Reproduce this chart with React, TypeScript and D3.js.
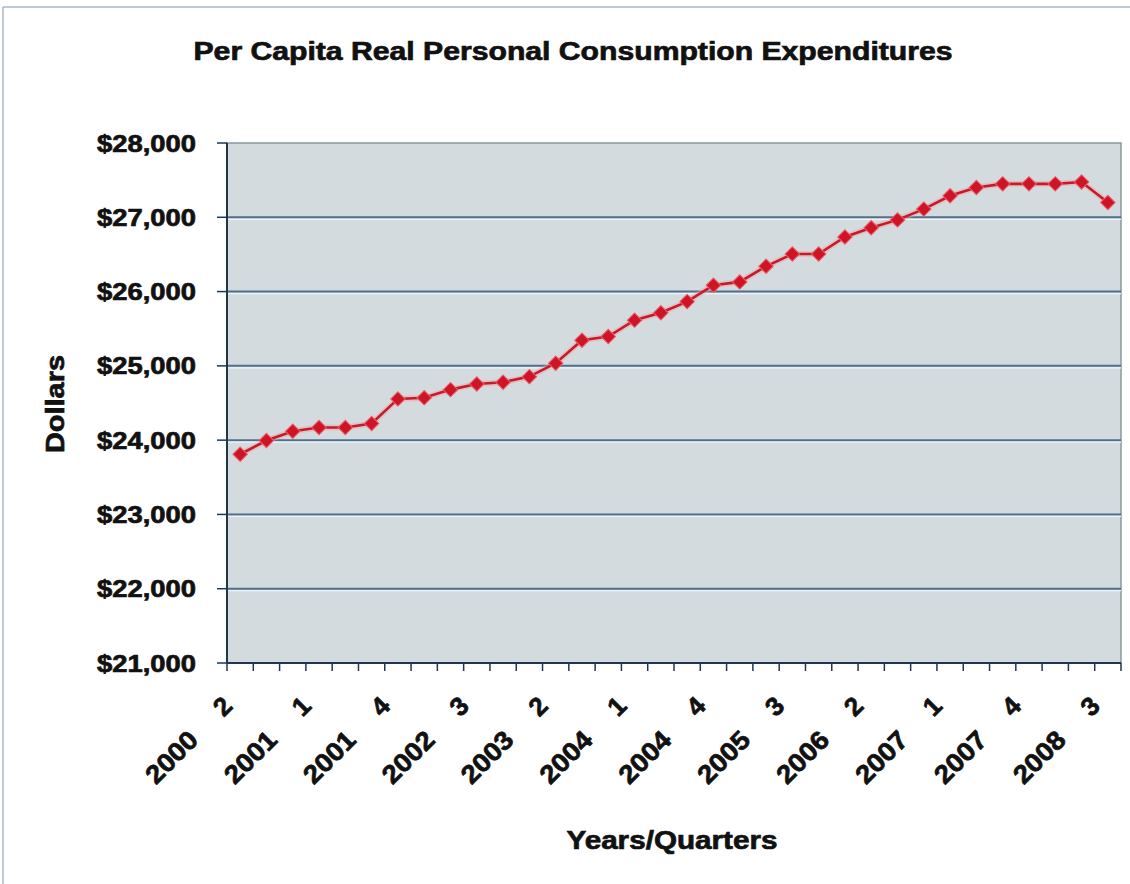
import React from "react";
import * as d3 from "d3";

const periods: string[] = [
  "2000-2", "2000-3", "2000-4",
  "2001-1", "2001-2", "2001-3", "2001-4",
  "2002-1", "2002-2", "2002-3", "2002-4",
  "2003-1", "2003-2", "2003-3", "2003-4",
  "2004-1", "2004-2", "2004-3", "2004-4",
  "2005-1", "2005-2", "2005-3", "2005-4",
  "2006-1", "2006-2", "2006-3", "2006-4",
  "2007-1", "2007-2", "2007-3", "2007-4",
  "2008-1", "2008-2", "2008-3",
];

const consumption: number[] = [
  23810, 23995, 24120, 24170, 24170, 24225, 24555, 24570, 24680, 24755,
  24780, 24855, 25035, 25345, 25395, 25615, 25715, 25865, 26085, 26130,
  26340, 26505, 26505, 26735, 26860, 26965, 27110, 27290, 27400, 27450,
  27450, 27450, 27475, 27200,
];

const yTicks: number[] = [21000, 22000, 23000, 24000, 25000, 26000, 27000, 28000];

const title = "Per Capita Real Personal Consumption Expenditures";
const xTitle = "Years/Quarters";
const yTitle = "Dollars";

const W = 1130;
const H = 884;
const plot = { left: 227, right: 1121, top: 143, bottom: 663 };
const FONT = "'Liberation Sans', Arial, Helvetica, sans-serif";
const INK = "#111111";

export default function App() {
  const x = d3.scaleBand<string>().domain(periods).range([plot.left, plot.right]).padding(0);
  const y = d3.scaleLinear().domain([21000, 28000]).range([plot.bottom, plot.top]);
  const cx = (p: string) => (x(p) as number) + x.bandwidth() / 2;

  const line = d3
    .line<number>()
    .x((_, i) => cx(periods[i]))
    .y((v) => y(v));

  const diamond = d3.symbol().type(d3.symbolSquare).size(105)() as string;
  const fmt = d3.format("$,");

  const labeled = periods.map((p, i) => ({ p, i })).filter((d) => d.i % 3 === 0);
  const heavy = { stroke: INK, strokeWidth: 0.7, fill: INK, fontWeight: "bold" as const };

  return (
    <svg
      width={W}
      height={H}
      style={{ position: "absolute", left: 0, top: 0, background: "#ffffff" }}
      fontFamily={FONT}
    >
      {/* outer chart frame */}
      <line x1={3} x2={W} y1={7} y2={7} stroke="#a9b8c6" strokeWidth={1.5} />
      <line x1={3} x2={3} y1={7} y2={H} stroke="#a9b8c6" strokeWidth={1.5} />

      {/* title */}
      <text
        x={573}
        y={60}
        textAnchor="middle"
        fontSize={25}
        textLength={759}
        lengthAdjust="spacingAndGlyphs"
        {...heavy}
      >
        {title}
      </text>

      {/* plot area */}
      <rect
        x={plot.left}
        y={plot.top}
        width={plot.right - plot.left}
        height={plot.bottom - plot.top}
        fill="#d4dbde"
        stroke="#8c979c"
        strokeWidth={1.5}
      />

      {/* gridlines */}
      {yTicks.slice(1, -1).map((t) => (
        <g key={t}>
          <line x1={plot.left} x2={plot.right} y1={y(t)} y2={y(t)} stroke="#4f6f8f" strokeWidth={2} />
          <line x1={plot.left} x2={plot.right} y1={y(t) + 2} y2={y(t) + 2} stroke="#eef3f6" strokeWidth={1.2} />
        </g>
      ))}

      {/* y axis */}
      <line x1={plot.left} x2={plot.left} y1={plot.top} y2={plot.bottom} stroke="#1f3550" strokeWidth={2} />
      {yTicks.map((t) => (
        <g key={t}>
          <line x1={plot.left - 10} x2={plot.left} y1={y(t)} y2={y(t)} stroke="#1f3550" strokeWidth={1.5} />
          <text
            x={196}
            y={y(t)}
            dy="0.36em"
            textAnchor="end"
            fontSize={24}
            textLength={99}
            lengthAdjust="spacingAndGlyphs"
            {...heavy}
          >
            {fmt(t)}
          </text>
        </g>
      ))}

      {/* x axis */}
      <line x1={plot.left} x2={plot.right} y1={plot.bottom} y2={plot.bottom} stroke="#1f3550" strokeWidth={2} />
      {periods.concat(["__end"]).map((p, i) => {
        const xx = i < periods.length ? (x(p) as number) : plot.right;
        return <line key={p} x1={xx} x2={xx} y1={plot.bottom} y2={plot.bottom + 8} stroke="#1f3550" strokeWidth={1.5} />;
      })}
      {labeled.map(({ p }) => {
        const [yr, q] = p.split("-");
        const tx = cx(p) - 18;
        const ty = 706;
        return (
          <g key={p} transform={`translate(${tx},${ty}) rotate(-45)`}>
            <text x={0} y={0} dy="0.36em" textAnchor="middle" fontSize={26} {...heavy}>
              {q}
            </text>
            <text
              x={-72}
              y={0}
              dy="0.36em"
              textAnchor="middle"
              fontSize={26}
              textLength={62}
              lengthAdjust="spacingAndGlyphs"
              {...heavy}
            >
              {yr}
            </text>
          </g>
        );
      })}

      {/* series */}
      <path d={line(consumption) as string} fill="none" stroke="#f4a0a0" strokeWidth={6} strokeOpacity={0.45} />
      <path d={line(consumption) as string} fill="none" stroke="#c41a2c" strokeWidth={2.6} />
      {consumption.map((v, i) => (
        <path
          key={periods[i]}
          d={diamond}
          transform={`translate(${cx(periods[i])},${y(v)}) rotate(45)`}
          fill="#d01428"
          stroke="#e8606a"
          strokeWidth={1}
        />
      ))}

      {/* axis titles */}
      <text
        x={672}
        y={849}
        textAnchor="middle"
        fontSize={26}
        textLength={211}
        lengthAdjust="spacingAndGlyphs"
        {...heavy}
      >
        {xTitle}
      </text>
      <text
        transform={`translate(64,404) rotate(-90)`}
        textAnchor="middle"
        fontSize={26}
        textLength={98}
        lengthAdjust="spacingAndGlyphs"
        {...heavy}
      >
        {yTitle}
      </text>
    </svg>
  );
}
